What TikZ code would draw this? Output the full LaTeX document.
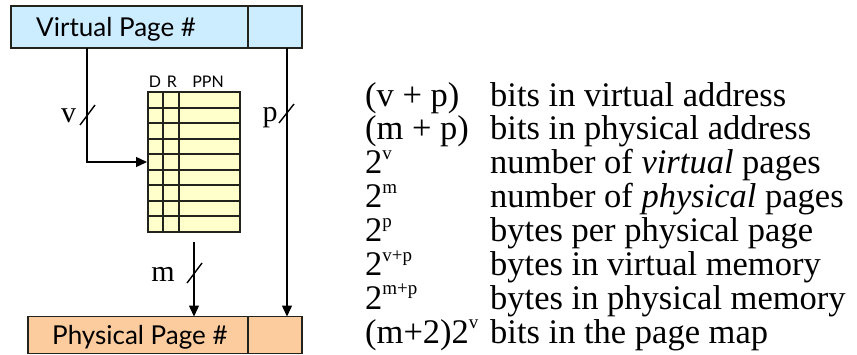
\documentclass[tikz,border=0pt]{standalone}
\usepackage{fontspec}
\setmainfont{Liberation Serif}
\newfontfamily\gill{Lato}
\usetikzlibrary{arrows.meta}
\definecolor{vblue}{RGB}{204,236,255}
\definecolor{porange}{RGB}{252,204,158}
\definecolor{tyellow}{RGB}{255,255,204}
\definecolor{edge}{RGB}{35,35,30}
\newcommand\supx[1]{\raisebox{0.42em}{\fontsize{19}{19}\selectfont #1}}
\begin{document}
\begin{tikzpicture}[x=1pt,y=-1pt,
  field/.style={draw=edge,line width=1.7pt,inner sep=0pt,outer sep=0pt},
  ftext/.style={font=\gill\fontsize{26}{28}\selectfont,inner sep=0pt,anchor=base west},
  arr/.style={line width=1.4pt,-{Triangle[length=11pt,width=10pt]}},
  slash/.style={line width=1.4pt},
  grid/.style={draw=edge,line width=2pt},
  lbl/.style={font=\fontsize{30}{32}\selectfont,inner sep=0pt,anchor=base},
  col/.style={font=\fontsize{34.5}{36}\selectfont,inner sep=0pt,anchor=base west},
  hdr/.style={font=\gill\fontsize{16}{17}\selectfont,inner sep=0pt,anchor=base}]
\useasboundingbox (0,0) rectangle (857,354);
% address fields
\node[field,fill=vblue,minimum width=237pt,minimum height=42pt] (vpn) at (129.5,27) {};
\node[field,fill=vblue,minimum width=54pt,minimum height=42pt] (voff) at (275,27) {};
\node[ftext] (vtxt) at (36,36) {Virtual Page \#};
\node[field,fill=porange,minimum width=220pt,minimum height=37pt] (ppn) at (138,335) {};
\node[field,fill=porange,minimum width=54pt,minimum height=37pt] (poff) at (275,335) {};
\node[ftext] (ptxt) at (52,344) {Physical Page \#};
% page table
\node[grid,fill=tyellow,minimum width=92pt,minimum height=140pt,inner sep=0pt] (tbl) at (194,162) {};
\foreach \k in {1,...,8} \draw[grid] (148,92+15.556*\k) -- (240,92+15.556*\k);
\draw[grid] (163,92) -- (163,232) (179,92) -- (179,232);
\node[hdr] (hd) at (155,87) {D};
\node[hdr] (hr) at (172,87) {R};
\node[hdr] (hp) at (208,87) {PPN};
% connectors
\coordinate (vx) at (87,0);
\draw[arr] (vx |- vpn.south) |- (tbl.west);
\coordinate (mtop) at (194,242);
\draw[arr] (mtop) -- (mtop |- ppn.north);
\coordinate (px) at (287,0);
\draw[arr] (px |- voff.south) -- (px |- poff.north);
% bus-width slashes
\draw[slash] (80,125) -- (95,105);
\draw[slash] (279,123) -- (294,104);
\draw[slash] (187,283) -- (202,263);
\node[lbl] (lv) at (68.5,122) {v};
\node[lbl] (lp) at (270,121) {p};
\node[lbl] (lm) at (163,281) {m};
% legend
\foreach \a/\b [count=\i from 0] in {
  {(v + p)}/{bits in virtual address},
  {(m + p)}/{bits in physical address},
  {2\supx{v}}/{number of \textit{virtual} pages},
  {2\supx{m}}/{number of \textit{physical} pages},
  {2\supx{p}}/{bytes per physical page},
  {2\supx{v+p}}/{bytes in virtual memory},
  {2\supx{m+p}}/{bytes in physical memory},
  {(m+2)2\supx{v}}/{bits in the page map}} {
  \node[col] (a\i) at (365,106+33.9*\i) {\a};
  \node[col] (b\i) at (490,106+33.9*\i) {\b};
}
\end{tikzpicture}
\end{document}
